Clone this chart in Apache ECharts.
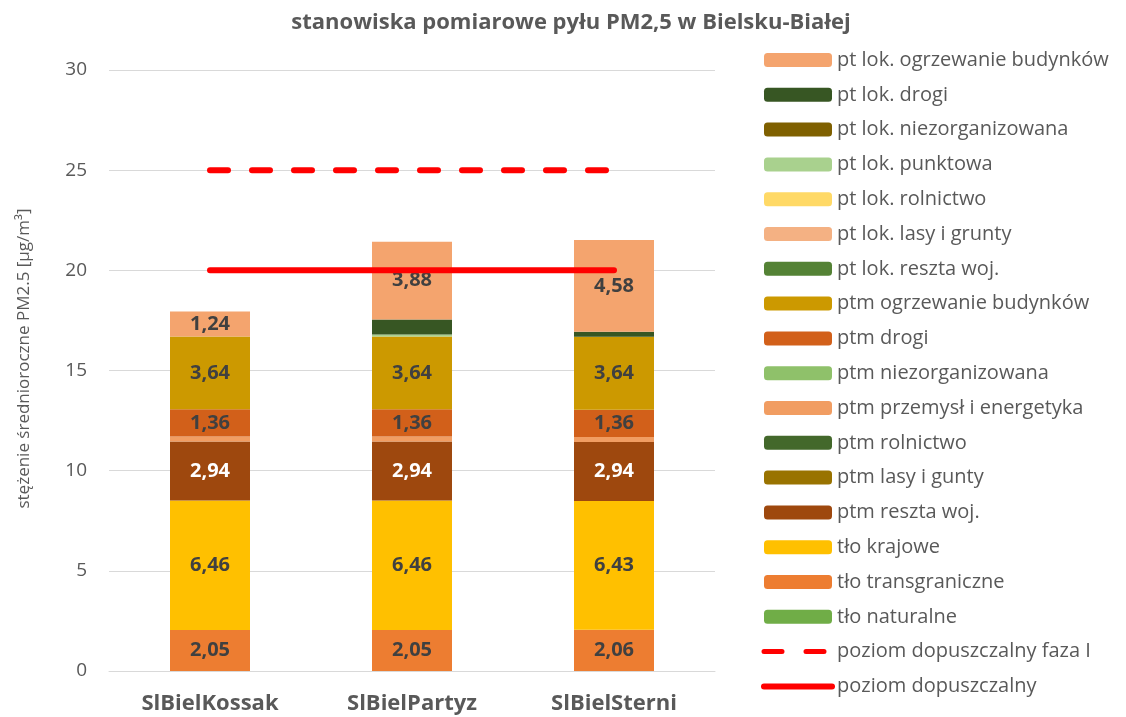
<!DOCTYPE html>
<html>
<head>
<meta charset="utf-8">
<script src="https://cdn.jsdelivr.net/npm/echarts@6/dist/echarts.min.js"></script>
<style>
  html, body { margin: 0; padding: 0; background: #ffffff; }
  #chart { width: 1126px; height: 717px; }
</style>
</head>
<body>
<div id="chart"></div>
<script>
// Stations
const categories = ['SlBielKossak', 'SlBielPartyz', 'SlBielSterni'];

// Contributions to annual mean PM2.5 [µg/m³], listed top of stack first
const ptLokOgrzewanie = [1.24, 3.88, 4.58];
const ptLokDrogi = [0, 0.75, 0.25];
const ptLokNiezorganizowana = [0, 0, 0];
const ptLokPunktowa = [0, 0.10, 0];
const ptLokRolnictwo = [0, 0, 0];
const ptLokLasy = [0, 0, 0];
const ptLokReszta = [0, 0, 0];
const ptmOgrzewanie = [3.64, 3.64, 3.64];
const ptmDrogi = [1.36, 1.36, 1.36];
const ptmNiezorganizowana = [0, 0, 0];
const ptmPrzemysl = [0.25, 0.25, 0.25];
const ptmRolnictwo = [0, 0, 0];
const ptmLasy = [0, 0, 0];
const ptmReszta = [2.94, 2.94, 2.94];
const tloKrajowe = [6.46, 6.46, 6.43];
const tloTransgraniczne = [2.05, 2.05, 2.06];
const tloNaturalne = [0, 0, 0];

// Limit values
const poziomFazaI = [25, 25, 25];
const poziomDopuszczalny = [20, 20, 20];

// Y axis ticks
const yTicks = [0, 5, 10, 15, 20, 25, 30];

const FONT = 'Open Sans';
const GREY = '#595959';
const RED = '#FF0000';

// Stack from bottom to top: [name, data, colour, show label, label colour]
const stackDefs = [
  ['tło naturalne', tloNaturalne, '#70AD47', false],
  ['tło transgraniczne', tloTransgraniczne, '#ED7D31', true, '#404040'],
  ['tło krajowe', tloKrajowe, '#FFC000', true, '#404040'],
  ['ptm reszta woj.', ptmReszta, '#9E480E', true, '#ffffff'],
  ['ptm lasy i gunty', ptmLasy, '#997300', false],
  ['ptm rolnictwo', ptmRolnictwo, '#43682B', false],
  ['ptm przemysł i energetyka', ptmPrzemysl, '#F19D62', false],
  ['ptm niezorganizowana', ptmNiezorganizowana, '#8FC16A', false],
  ['ptm drogi', ptmDrogi, '#D2601A', true, '#404040'],
  ['ptm ogrzewanie budynków', ptmOgrzewanie, '#CC9900', true, '#404040'],
  ['pt lok. reszta woj.', ptLokReszta, '#548235', false],
  ['pt lok. lasy i grunty', ptLokLasy, '#F4B183', false],
  ['pt lok. rolnictwo', ptLokRolnictwo, '#FFD966', false],
  ['pt lok. punktowa', ptLokPunktowa, '#A9D18E', false],
  ['pt lok. niezorganizowana', ptLokNiezorganizowana, '#7F6000', false],
  ['pt lok. drogi', ptLokDrogi, '#375623', false],
  ['pt lok. ogrzewanie budynków', ptLokOgrzewanie, '#F4A46E', true, '#404040']
];

const fmt = v => v.toFixed(2).replace('.', ',');

const barSeries = stackDefs.map(([name, data, color, showLabel, labelColor]) => ({
  name: name,
  type: 'bar',
  stack: 'total',
  barWidth: 80,
  data: data,
  itemStyle: { color: color },
  emphasis: { disabled: true },
  label: {
    show: showLabel,
    position: 'inside',
    formatter: p => fmt(p.value),
    color: labelColor || '#404040',
    fontFamily: FONT,
    fontWeight: 'bold',
    fontSize: 20
  }
}));

const dashStyle = { color: RED, width: 6, type: [18, 24], cap: 'round' };
const solidStyle = { color: RED, width: 6, cap: 'round' };

const lineSeries = [
  {
    name: 'poziom dopuszczalny faza I',
    type: 'line',
    data: poziomFazaI,
    symbol: 'none',
    lineStyle: dashStyle,
    itemStyle: { color: RED },
    emphasis: { disabled: true },
    z: 5
  },
  {
    name: 'poziom dopuszczalny',
    type: 'line',
    data: poziomDopuszczalny,
    symbol: 'none',
    lineStyle: solidStyle,
    itemStyle: { color: RED },
    emphasis: { disabled: true },
    z: 5
  }
];

const legendData = stackDefs.map(d => ({ name: d[0] })).reverse().concat([
  { name: 'poziom dopuszczalny faza I', itemStyle: { opacity: 0 },
    lineStyle: { color: RED, width: 5, type: [18, 24], cap: 'round' } },
  { name: 'poziom dopuszczalny', itemStyle: { opacity: 0 },
    lineStyle: { color: RED, width: 6, cap: 'round' } }
]);

const chart = echarts.init(document.getElementById('chart'));
chart.setOption({
  animation: false,
  title: {
    text: 'stanowiska pomiarowe pyłu PM2,5 w Bielsku-Białej',
    left: 571,
    textAlign: 'center',
    top: 12,
    padding: 0,
    textStyle: { fontFamily: FONT, fontWeight: 'bold', fontSize: 22, color: GREY }
  },
  legend: {
    orient: 'vertical',
    left: 761,
    top: 50,
    padding: 0,
    itemWidth: 68,
    itemHeight: 14,
    itemGap: 14.8,
    data: legendData,
    selectedMode: false,
    textStyle: { fontFamily: FONT, fontSize: 20, color: GREY, lineHeight: 20 }
  },
  grid: { left: 109, right: 411, top: 70, bottom: 46, containLabel: false, outerBoundsMode: 'none' },
  xAxis: {
    type: 'category',
    data: categories,
    axisLine: { lineStyle: { color: '#D9D9D9', width: 1 } },
    axisTick: { show: false },
    axisLabel: { margin: 22, fontFamily: FONT, fontWeight: 'bold', fontSize: 22, color: GREY }
  },
  yAxis: {
    type: 'value',
    min: yTicks[0],
    max: yTicks[yTicks.length - 1],
    interval: 5,
    name: 'stężenie średnioroczne PM2.5 [µg/m³]',
    nameLocation: 'middle',
    nameGap: 76,
    nameTextStyle: { fontFamily: FONT, fontSize: 17, color: GREY, padding: [0, 0, 0, 24] },
    axisLine: { show: false },
    axisTick: { show: false },
    splitLine: { lineStyle: { color: '#D9D9D9', width: 1 } },
    axisLabel: { margin: 22, fontFamily: FONT, fontSize: 19, color: GREY }
  },
  series: barSeries.concat(lineSeries)
});
</script>
</body>
</html>
